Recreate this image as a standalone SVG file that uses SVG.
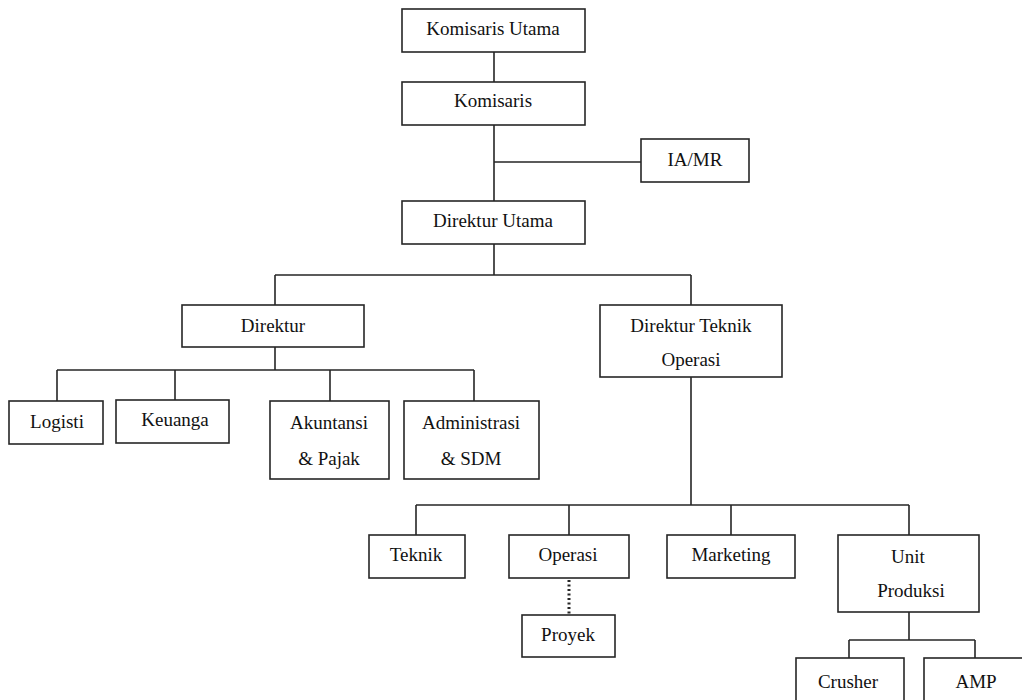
<svg xmlns="http://www.w3.org/2000/svg" width="1022" height="700" viewBox="0 0 1022 700">
<style>
.box{fill:#fff;stroke:#262626;stroke-width:1.6}
.ln{fill:none;stroke:#262626;stroke-width:1.6}
.dot{fill:none;stroke:#262626;stroke-width:3;stroke-dasharray:2 2.5}
text{font-family:"Liberation Serif","Times New Roman",serif;font-size:19px;fill:#111;text-anchor:middle}
</style>
<rect width="1022" height="700" fill="#fff"/>
<g id="connectors">
<path class="ln" d="M494 52V82M494 125V201M494 162H641M494 244V275M275 275H691M275 275V305M691 275V305"/>
<path class="ln" d="M275 347V370M57 370H474M57 370V401M175 370V400M330 370V401M474 370V401"/>
<path class="ln" d="M691 377V505M416 505H909M416 505V535M569 505V535M731 505V535M909 505V535"/>
<path class="ln" d="M909 612V640M849 640H975M849 640V658M975 640V658"/>
<path class="dot" d="M569 580V615"/>
</g>
<g id="komisaris-utama"><rect class="box" x="402" y="9" width="183" height="43"/><text x="493" y="35">Komisaris Utama</text></g>
<g id="komisaris"><rect class="box" x="402" y="82" width="183" height="43"/><text x="493" y="107">Komisaris</text></g>
<g id="ia-mr"><rect class="box" x="641" y="139" width="108" height="43"/><text x="695" y="166">IA/MR</text></g>
<g id="direktur-utama"><rect class="box" x="402" y="201" width="183" height="43"/><text x="493" y="227">Direktur Utama</text></g>
<g id="direktur"><rect class="box" x="182" y="305" width="182" height="42"/><text x="273" y="332">Direktur</text></g>
<g id="direktur-teknik-operasi"><rect class="box" x="600" y="305" width="182" height="72"/><text x="691" y="332">Direktur Teknik</text><text x="691" y="366">Operasi</text></g>
<g id="logisti"><rect class="box" x="9" y="401" width="94" height="43"/><text x="57" y="428">Logisti</text></g>
<g id="keuanga"><rect class="box" x="116" y="400" width="113" height="43"/><text x="175" y="426">Keuanga</text></g>
<g id="akuntansi"><rect class="box" x="270" y="401" width="119" height="78"/><text x="329" y="429">Akuntansi</text><text x="329" y="465">&amp; Pajak</text></g>
<g id="administrasi"><rect class="box" x="404" y="401" width="135" height="78"/><text x="471" y="429">Administrasi</text><text x="471" y="465">&amp; SDM</text></g>
<g id="teknik"><rect class="box" x="369" y="535" width="96" height="43"/><text x="416" y="561">Teknik</text></g>
<g id="operasi"><rect class="box" x="509" y="535" width="120" height="43"/><text x="568" y="561">Operasi</text></g>
<g id="marketing"><rect class="box" x="667" y="535" width="128" height="43"/><text x="731" y="561">Marketing</text></g>
<g id="unit-produksi"><rect class="box" x="838" y="535" width="141" height="77"/><text x="908" y="563">Unit</text><text x="911" y="597">Produksi</text></g>
<g id="proyek"><rect class="box" x="522" y="615" width="93" height="42"/><text x="568" y="641">Proyek</text></g>
<g id="crusher"><rect class="box" x="796" y="658" width="108" height="52"/><text x="848" y="688">Crusher</text></g>
<g id="amp"><rect class="box" x="924" y="658" width="110" height="52"/><text x="976" y="688">AMP</text></g>
</svg>
